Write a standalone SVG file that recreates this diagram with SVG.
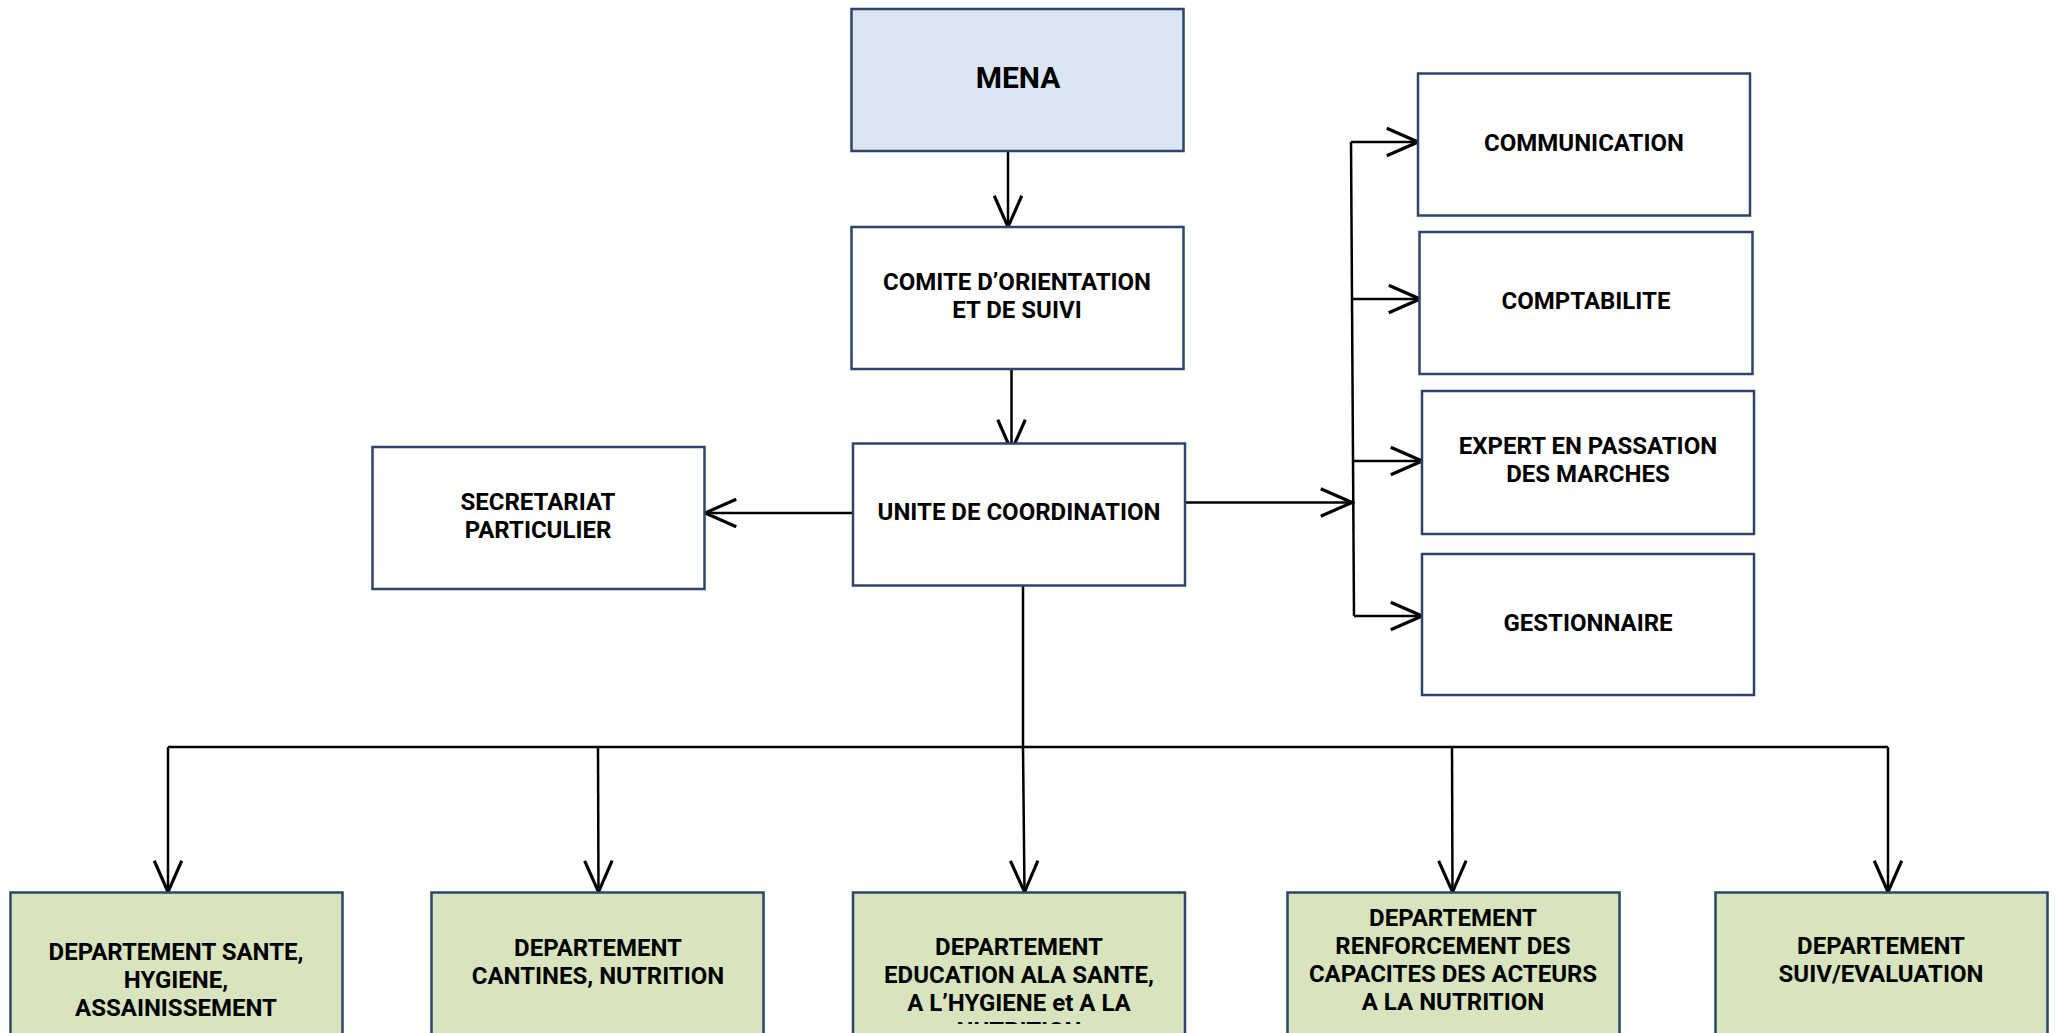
<svg xmlns="http://www.w3.org/2000/svg" width="2057" height="1033" viewBox="0 0 2057 1033">
<style>
.box{stroke:#2b466a;stroke-width:2.5;fill:#ffffff}
.blue{fill:#dce6f2}
.green{fill:#d7e4bd}
.t{font-family:Roboto,"Liberation Sans",sans-serif;font-weight:700;font-size:24px;fill:#000;text-anchor:middle}
.conn{stroke:#000;stroke-width:2.5;fill:none}
</style>
<defs>
<marker id="arr" markerUnits="userSpaceOnUse" markerWidth="40" markerHeight="40" viewBox="-30 -15 32 30" refX="0" refY="0" orient="auto">
<path d="M-25,-11 L0,0 L-25,11" fill="none" stroke="#000" stroke-width="2.5"/>
</marker>
<clipPath id="clipEdu"><rect x="853" y="892" width="332" height="132"/></clipPath>
</defs>
<rect width="2057" height="1033" fill="#fff"/>
<g id="connectors" class="conn">
<path d="M1008,152 L1008,227" marker-end="url(#arr)"/>
<path d="M1011.5,370 L1011.5,451" marker-end="url(#arr)"/>
<path d="M853,513 L705,513" marker-end="url(#arr)"/>
<path d="M1185,502.5 L1352,502.5" marker-end="url(#arr)"/>
<path d="M1351,142 L1354,616"/>
<path d="M1351,142 L1418,142" marker-end="url(#arr)"/>
<path d="M1352,299 L1420,299" marker-end="url(#arr)"/>
<path d="M1353,461 L1422,461" marker-end="url(#arr)"/>
<path d="M1354,616 L1422,616" marker-end="url(#arr)"/>
<path d="M1023,585 L1023,747"/>
<path d="M168,747 L1888,747"/>
<path d="M168,747 L168,892" marker-end="url(#arr)"/>
<path d="M598,747 L598.5,892" marker-end="url(#arr)"/>
<path d="M1023,747 L1024.5,892" marker-end="url(#arr)"/>
<path d="M1452,747 L1452.5,892" marker-end="url(#arr)"/>
<path d="M1888,747 L1888,892" marker-end="url(#arr)"/>
</g>
<g id="mena"><rect class="box blue" x="851.5" y="9" width="332" height="142"/><text class="t" x="1018" y="88" style="font-size:30px">MENA</text></g>
<g id="comite"><rect class="box" x="851.5" y="227" width="332" height="142"/><text class="t" x="1017" y="290">COMITE D’ORIENTATION</text><text class="t" x="1017" y="318">ET DE SUIVI</text></g>
<g id="unite"><rect class="box" x="853" y="443.5" width="332" height="142"/><text class="t" x="1019" y="519.5">UNITE DE COORDINATION</text></g>
<g id="secretariat"><rect class="box" x="372.5" y="447" width="332" height="142"/><text class="t" x="538" y="510">SECRETARIAT</text><text class="t" x="538" y="538">PARTICULIER</text></g>
<g id="communication"><rect class="box" x="1418" y="73.5" width="332" height="142"/><text class="t" x="1584" y="151">COMMUNICATION</text></g>
<g id="comptabilite"><rect class="box" x="1419.5" y="232" width="333" height="142"/><text class="t" x="1586" y="309">COMPTABILITE</text></g>
<g id="expert"><rect class="box" x="1422" y="391" width="332" height="143"/><text class="t" x="1588" y="454">EXPERT EN PASSATION</text><text class="t" x="1588" y="482">DES MARCHES</text></g>
<g id="gestionnaire"><rect class="box" x="1422" y="554" width="332" height="141"/><text class="t" x="1588" y="631">GESTIONNAIRE</text></g>
<g id="dep-sante"><rect class="box green" x="10.5" y="892.5" width="332" height="160"/><text class="t" x="176" y="960">DEPARTEMENT SANTE,</text><text class="t" x="176" y="988">HYGIENE,</text><text class="t" x="176" y="1016">ASSAINISSEMENT</text></g>
<g id="dep-cantines"><rect class="box green" x="431.5" y="892.5" width="332" height="160"/><text class="t" x="598" y="956">DEPARTEMENT</text><text class="t" x="598" y="984">CANTINES, NUTRITION</text></g>
<g id="dep-education"><rect class="box green" x="853" y="892.5" width="332" height="160"/><g clip-path="url(#clipEdu)"><text class="t" x="1019" y="955">DEPARTEMENT</text><text class="t" x="1019" y="983">EDUCATION ALA SANTE,</text><text class="t" x="1019" y="1011">A L’HYGIENE et A LA</text><text class="t" x="1019" y="1039">NUTRITION</text></g></g>
<g id="dep-renforcement"><rect class="box green" x="1287.5" y="892.5" width="332" height="160"/><text class="t" x="1453" y="926">DEPARTEMENT</text><text class="t" x="1453" y="954">RENFORCEMENT DES</text><text class="t" x="1453" y="982">CAPACITES DES ACTEURS</text><text class="t" x="1453" y="1010">A LA NUTRITION</text></g>
<g id="dep-suivi"><rect class="box green" x="1715.5" y="892.5" width="332" height="160"/><text class="t" x="1881" y="954">DEPARTEMENT</text><text class="t" x="1881" y="982">SUIV/EVALUATION</text></g>
</svg>
